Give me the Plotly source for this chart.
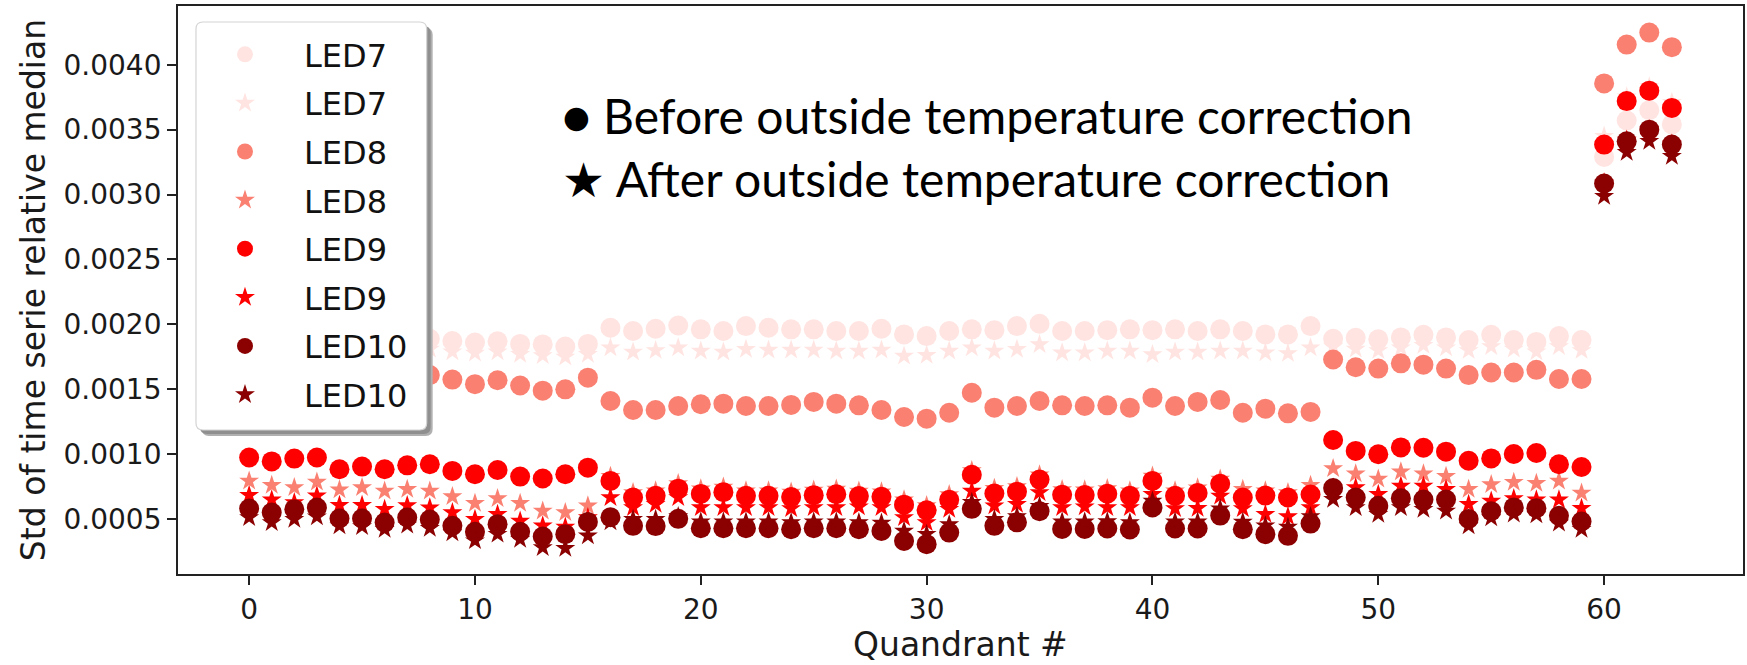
import plotly.graph_objects as go

# Quadrant index 0..63
quadrant = list(range(64))

# Std of time series relative to median, before (circle) and after (star)
# outside temperature correction, for each LED
led7_before = [
    0.00192, 0.00190, 0.00191, 0.00193, 0.00189, 0.00190, 0.00188, 0.00190,
    0.00189, 0.001872, 0.00186, 0.00187, 0.00185, 0.001846, 0.00183, 0.00185,
    0.001974, 0.001949, 0.001967, 0.001992, 0.001962, 0.001949, 0.001987, 0.001974,
    0.001962, 0.001962, 0.001949, 0.001949, 0.001967, 0.001923, 0.00191, 0.001949,
    0.001962, 0.001956, 0.001987, 0.002005, 0.001949, 0.001949, 0.001956, 0.001962,
    0.001956, 0.001962, 0.001949, 0.001962, 0.001949, 0.001923, 0.001923, 0.001987,
    0.00189, 0.001897, 0.001885, 0.0019, 0.00192, 0.0019, 0.00188, 0.00192,
    0.00188, 0.001865, 0.00191, 0.00188, 0.00329, 0.00357, 0.00365, 0.00354,
]
led7_after = [
    0.00181, 0.00180, 0.00181, 0.00182, 0.00179, 0.00180, 0.00178, 0.00180,
    0.00181, 0.00179, 0.00178, 0.00179, 0.00177, 0.00176, 0.00175, 0.00177,
    0.00182, 0.001787, 0.0018, 0.00182, 0.001795, 0.001787, 0.001808, 0.001803,
    0.001803, 0.001803, 0.001795, 0.001795, 0.001803, 0.001756, 0.001762, 0.001795,
    0.00182, 0.001795, 0.001808, 0.001846, 0.001782, 0.001782, 0.001795, 0.001795,
    0.001769, 0.001787, 0.001787, 0.001795, 0.001795, 0.001782, 0.001777, 0.00182,
    0.00183, 0.00181, 0.00180, 0.00182, 0.00184, 0.00182, 0.00180, 0.00183,
    0.00181, 0.00179, 0.00183, 0.00180, 0.00345, 0.003754, 0.00383, 0.00371,
]
led8_before = [
    0.00165, 0.00163, 0.00164, 0.00166, 0.00161, 0.00162, 0.00160, 0.00162,
    0.00161, 0.001575, 0.00154, 0.00157, 0.00153, 0.00149, 0.0015, 0.00159,
    0.00141, 0.001341, 0.001341, 0.001372, 0.001385, 0.00139, 0.001372, 0.001372,
    0.00138, 0.001403, 0.00139, 0.001377, 0.001341, 0.001287, 0.001274, 0.00132,
    0.001474, 0.001359, 0.001372, 0.00141, 0.001377, 0.001372, 0.001377, 0.001359,
    0.001436, 0.001372, 0.001403, 0.001418, 0.00132, 0.001351, 0.001315, 0.001326,
    0.00173, 0.00167, 0.00166, 0.0017, 0.00169, 0.00166, 0.00161, 0.00163,
    0.00163, 0.00165, 0.00158, 0.00158, 0.003856, 0.004155, 0.004247, 0.004135,
]
led8_after = [
    0.000795, 0.000762, 0.000744, 0.000787, 0.000726, 0.000744, 0.000718, 0.000731,
    0.000718, 0.000674, 0.000623, 0.000659, 0.000623, 0.000564, 0.000551, 0.000603,
    0.00083, 0.000705, 0.00072, 0.000775, 0.000735, 0.000748, 0.00072, 0.00072,
    0.00071, 0.000725, 0.000732, 0.000718, 0.000712, 0.00065, 0.000605, 0.00069,
    0.000875, 0.000738, 0.000752, 0.000842, 0.000728, 0.000726, 0.000736, 0.00072,
    0.000832, 0.00072, 0.000742, 0.00081, 0.000731, 0.00072, 0.000705, 0.000762,
    0.00089, 0.00085, 0.00081, 0.000865, 0.00085, 0.00083, 0.00073, 0.000767,
    0.000785, 0.000776, 0.000794, 0.000702, 0.003385, 0.00372, 0.0038, 0.003667,
]
led9_before = [
    0.000975, 0.000945, 0.000967, 0.000975, 0.000885, 0.000905, 0.000885, 0.000915,
    0.000923, 0.000872, 0.000846, 0.000879, 0.000828, 0.000813, 0.000846, 0.000897,
    0.000795, 0.000667, 0.00068, 0.000735, 0.000695, 0.000708, 0.00068, 0.00068,
    0.00067, 0.000685, 0.000692, 0.000678, 0.000672, 0.000612, 0.000568, 0.00065,
    0.000842, 0.000698, 0.000712, 0.000805, 0.000688, 0.000686, 0.000696, 0.00068,
    0.000795, 0.00068, 0.000702, 0.000773, 0.000667, 0.000682, 0.000667, 0.00069,
    0.00111, 0.001026, 0.001, 0.001053, 0.00105, 0.00102, 0.00095, 0.000968,
    0.001002, 0.00101, 0.000923, 0.000902, 0.003385, 0.00372, 0.0038, 0.003667,
]
led9_after = [
    0.000685, 0.000649, 0.000628, 0.00068, 0.000608, 0.000608, 0.000577, 0.000605,
    0.000588, 0.000551, 0.0005, 0.000538, 0.000487, 0.00045, 0.00044, 0.000513,
    0.000667, 0.00059, 0.000615, 0.000667, 0.00059, 0.00059, 0.00059, 0.00059,
    0.000582, 0.00059, 0.00059, 0.000595, 0.00059, 0.000513, 0.000474, 0.000577,
    0.000718, 0.000603, 0.000615, 0.000705, 0.00059, 0.000595, 0.00059, 0.00059,
    0.000692, 0.000582, 0.000585, 0.000679, 0.000582, 0.000538, 0.000521, 0.00059,
    0.00074, 0.000744, 0.000692, 0.000756, 0.000756, 0.000731, 0.000615, 0.00064,
    0.00066, 0.00065, 0.00065, 0.000585, 0.00309, 0.00342, 0.0035, 0.00339,
]
led10_before = [
    0.000582, 0.000551, 0.000577, 0.00059, 0.000505, 0.000505, 0.000474, 0.000513,
    0.000497, 0.000449, 0.000403, 0.000462, 0.000403, 0.000367, 0.000385, 0.000479,
    0.000515, 0.000449, 0.000447, 0.000503, 0.00043, 0.00043, 0.00043, 0.00043,
    0.000423, 0.00043, 0.00043, 0.000423, 0.00041, 0.000333, 0.000308, 0.000397,
    0.00058, 0.000449, 0.000476, 0.000562, 0.000425, 0.000425, 0.000428, 0.000421,
    0.00059, 0.000428, 0.000428, 0.000528, 0.000423, 0.000385, 0.000372, 0.000466,
    0.00074, 0.000667, 0.000603, 0.000662, 0.000652, 0.000652, 0.000502, 0.000562,
    0.000591, 0.000585, 0.000526, 0.000482, 0.003085, 0.00341, 0.0035, 0.003385,
]
led10_after = [
    0.000513, 0.000474, 0.0005, 0.000518, 0.000449, 0.000444, 0.000423, 0.000455,
    0.00043, 0.000395, 0.000335, 0.000385, 0.000346, 0.000282, 0.000276, 0.000372,
    0.00048, 0.0005, 0.0005, 0.00052, 0.00048, 0.00048, 0.00048, 0.00048,
    0.000475, 0.00048, 0.00048, 0.000475, 0.00047, 0.00041, 0.000385, 0.00046,
    0.00063, 0.0005, 0.00052, 0.0006, 0.00048, 0.00048, 0.000482, 0.000475,
    0.00064, 0.00048, 0.00048, 0.00058, 0.000478, 0.00045, 0.00044, 0.00052,
    0.000654, 0.00059, 0.000538, 0.00059, 0.000577, 0.000564, 0.000449, 0.000512,
    0.00054, 0.000535, 0.00047, 0.000423, 0.002987, 0.003326, 0.00341, 0.003295,
]

series = [
    ("LED7", "#FFE4E1", led7_before, led7_after),
    ("LED8", "#FA8072", led8_before, led8_after),
    ("LED9", "#FF0000", led9_before, led9_after),
    ("LED10", "#8B0000", led10_before, led10_after),
]

fig = go.Figure()
for name, color, before, after in series:
    fig.add_trace(go.Scatter(
        x=quadrant, y=before, mode="markers", name=name, legendgroup=name + "o",
        marker=dict(symbol="circle", size=20, color=color, line=dict(width=0)),
    ))
    fig.add_trace(go.Scatter(
        x=quadrant, y=after, mode="markers", name=name, legendgroup=name + "s",
        marker=dict(symbol="star", size=15, color=color, line=dict(width=0)),
    ))

W, H = 1747, 665
ML, MR, MT, MB = 178, 2, 6, 91
PW, PH = W - ML - MR, H - MT - MB


def px(x):
    return (x - ML) / PW


def py(y):
    return 1 - (y - MT) / PH


def rounded_box(x0, y0, x1, y1, r):
    # rounded rectangle path in paper units, from pixel corners
    pts = [
        f"M {px(x0 + r)} {py(y0)}",
        f"L {px(x1 - r)} {py(y0)}", f"Q {px(x1)} {py(y0)} {px(x1)} {py(y0 + r)}",
        f"L {px(x1)} {py(y1 - r)}", f"Q {px(x1)} {py(y1)} {px(x1 - r)} {py(y1)}",
        f"L {px(x0 + r)} {py(y1)}", f"Q {px(x0)} {py(y1)} {px(x0)} {py(y1 - r)}",
        f"L {px(x0)} {py(y0 + r)}", f"Q {px(x0)} {py(y0)} {px(x0 + r)} {py(y0)}",
        "Z",
    ]
    return " ".join(pts)


axis_common = dict(
    showgrid=False, zeroline=False, showline=True, mirror=True,
    linecolor="#222222", linewidth=1.8,
    ticks="outside", ticklen=9, tickwidth=1.6, tickcolor="#222222",
    tickfont=dict(family="DejaVu Sans", size=28, color="#1a1a1a"),
)

fig.update_layout(
    width=W, height=H,
    margin=dict(l=ML, r=MR, t=MT, b=MB),
    paper_bgcolor="white", plot_bgcolor="white",
    xaxis=dict(range=[-3.15, 66.15], tickvals=[0, 10, 20, 30, 40, 50, 60], **axis_common),
    yaxis=dict(range=[0.000078, 0.004452],
               tickvals=[0.0005, 0.001, 0.0015, 0.002, 0.0025, 0.003, 0.0035, 0.004],
               tickformat=".4f", **axis_common),
    legend=dict(
        x=px(186), y=py(27), xanchor="left", yanchor="top",
        bgcolor="rgba(0,0,0,0)", borderwidth=0,
        font=dict(family="DejaVu Sans", size=32, color="#111111"),
        itemwidth=108, tracegroupgap=4,
    ),
    showlegend=True,
)

# legend frame: soft shadow then white rounded box, both above the markers
BX0, BY0, BX1, BY1 = 196, 22, 427, 430
fig.add_shape(type="path", xref="paper", yref="paper", layer="above",
              path=rounded_box(BX0 + 6, BY0 + 6, BX1 + 6, BY1 + 6, 7),
              fillcolor="#b0b0b0", line=dict(width=0))
fig.add_shape(type="path", xref="paper", yref="paper", layer="above",
              path=rounded_box(BX0 + 4, BY0 + 4, BX1 + 4, BY1 + 4, 7),
              fillcolor="#8f8f8f", line=dict(width=0))
fig.add_shape(type="path", xref="paper", yref="paper", layer="above",
              path=rounded_box(BX0, BY0, BX1, BY1, 7),
              fillcolor="white", line=dict(color="#d4d4d4", width=1.2))

# axis titles
fig.add_annotation(text="Quandrant #", xref="paper", yref="paper",
                   x=0.5, y=py(644), xanchor="center", yanchor="middle", showarrow=False,
                   font=dict(family="DejaVu Sans", size=33, color="#1a1a1a"))
fig.add_annotation(text="Std of time serie relative median", xref="paper", yref="paper",
                   x=px(33), y=0.5, xanchor="center", yanchor="middle", showarrow=False,
                   textangle=-90,
                   font=dict(family="DejaVu Sans", size=33, color="#1a1a1a"))

# marker meaning notes
fig.add_annotation(text="● Before outside temperature correction", xref="paper", yref="paper",
                   x=px(560), y=py(115), xanchor="left", yanchor="middle", showarrow=False,
                   font=dict(family="Lato", size=48, color="black"))
fig.add_annotation(text="★ After outside temperature correction", xref="paper", yref="paper",
                   x=px(560), y=py(178), xanchor="left", yanchor="middle", showarrow=False,
                   font=dict(family="Lato", size=48, color="black"))

fig.write_html("out.html")
